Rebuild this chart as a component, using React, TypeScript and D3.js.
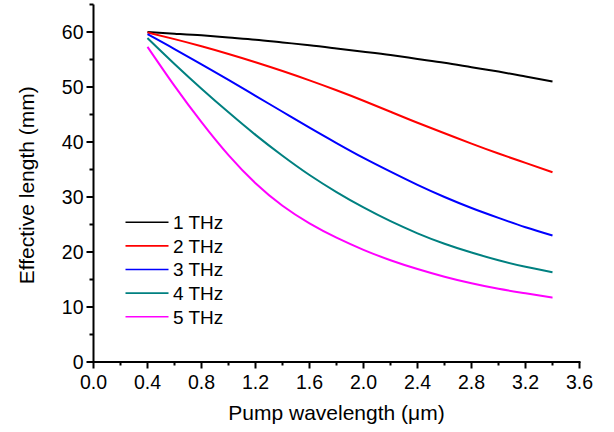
import React from "react";
import * as d3 from "d3";

const wavelengths = [0.4, 0.6, 0.8, 1.0, 1.2, 1.4, 1.6, 1.8, 2.0, 2.2, 2.4, 2.6, 2.8, 3.0, 3.2, 3.4];
const thz1 = [60.0, 59.7, 59.4, 59.0, 58.6, 58.1, 57.6, 57.0, 56.4, 55.8, 55.1, 54.4, 53.6, 52.8, 51.9, 51.0];
const thz2 = [59.9, 58.7, 57.4, 56.0, 54.5, 52.9, 51.2, 49.4, 47.5, 45.5, 43.5, 41.6, 39.7, 37.9, 36.2, 34.5];
const thz3 = [59.6, 56.9, 54.1, 51.3, 48.4, 45.5, 42.6, 39.8, 37.1, 34.6, 32.2, 30.0, 28.0, 26.2, 24.5, 23.0];
const thz4 = [58.9, 54.2, 49.7, 45.4, 41.3, 37.5, 34.0, 30.9, 28.1, 25.6, 23.4, 21.5, 19.9, 18.5, 17.3, 16.3];
const thz5 = [57.3, 50.2, 43.6, 37.6, 32.5, 28.4, 25.2, 22.6, 20.4, 18.5, 16.9, 15.5, 14.3, 13.3, 12.5, 11.7];

const seriesNames = ["1 THz", "2 THz", "3 THz", "4 THz", "5 THz"];
const seriesValues = [thz1, thz2, thz3, thz4, thz5];
const seriesColors = ["#000000", "#ff0000", "#0000ff", "#008080", "#ff00ff"];

const xMajorTicks = [0, 0.4, 0.8, 1.2, 1.6, 2.0, 2.4, 2.8, 3.2, 3.6];
const xMinorTicks = [0.2, 0.6, 1.0, 1.4, 1.8, 2.2, 2.6, 3.0, 3.4];
const yMajorTicks = [0, 10, 20, 30, 40, 50, 60];
const yMinorTicks = [5, 15, 25, 35, 45, 55, 65];

const W = 614;
const H = 432;
const FONT = "Liberation Sans, Arial, Helvetica, sans-serif";

export default function App() {
  const x = d3.scaleLinear().domain([0, 3.6]).range([93.5, 579.5]);
  const y = d3.scaleLinear().domain([0, 65]).range([362, 4.5]);
  const line = d3
    .line<[number, number]>()
    .x((d) => x(d[0]))
    .y((d) => y(d[1]))
    .curve(d3.curveNatural);

  const x0 = x(0);
  const y0 = y(0);

  return (
    <svg
      width={W}
      height={H}
      style={{ position: "absolute", left: 0, top: 0, background: "#fff" }}
      fontFamily={FONT}
    >
      <rect width={W} height={H} fill="#fff" />
      {seriesValues.map((vals, i) => (
        <path
          key={seriesNames[i]}
          d={line(wavelengths.map((w, j) => [w, vals[j]] as [number, number])) || ""}
          fill="none"
          stroke={seriesColors[i]}
          strokeWidth={2}
        />
      ))}

      {/* axes */}
      <line x1={x0} x2={x0} y1={y(65)} y2={y0 + 1} stroke="#000" strokeWidth={2} />
      <line x1={x0 - 1} x2={x(3.6) + 1} y1={y0} y2={y0} stroke="#000" strokeWidth={2} />

      {xMajorTicks.map((t) => (
        <g key={"xm" + t}>
          <line x1={x(t)} x2={x(t)} y1={y0} y2={y0 + 6.5} stroke="#000" strokeWidth={2} />
          <text x={x(t)} y={y0 + 27} textAnchor="middle" fontSize={19.5} fill="#000">
            {t.toFixed(1)}
          </text>
        </g>
      ))}
      {xMinorTicks.map((t) => (
        <line key={"xn" + t} x1={x(t)} x2={x(t)} y1={y0} y2={y0 + 3.5} stroke="#000" strokeWidth={2} />
      ))}
      {yMajorTicks.map((t) => (
        <g key={"ym" + t}>
          <line x1={x0} x2={x0 - 7} y1={y(t)} y2={y(t)} stroke="#000" strokeWidth={2} />
          <text x={x0 - 10} y={y(t)} dy="0.35em" textAnchor="end" fontSize={19.5} fill="#000">
            {t}
          </text>
        </g>
      ))}
      {yMinorTicks.map((t) => (
        <line key={"yn" + t} x1={x0} x2={x0 - 4} y1={y(t)} y2={y(t)} stroke="#000" strokeWidth={2} />
      ))}

      {/* axis titles */}
      <text x={(x(0) + x(3.6)) / 2} y={420} textAnchor="middle" fontSize={21} fill="#000">
        Pump wavelength (μm)
      </text>
      <text
        transform={`translate(34, ${(y(0) + y(65)) / 2 + 2}) rotate(-90)`}
        textAnchor="middle"
        fontSize={21}
        fill="#000"
      >
        Effective length (mm)
      </text>

      {/* legend */}
      {seriesNames.map((name, i) => {
        const ly = 222.3 + i * 23.6;
        return (
          <g key={"lg" + name}>
            <line x1={125.5} x2={168.5} y1={ly} y2={ly} stroke={seriesColors[i]} strokeWidth={1.6} />
            <text x={173} y={ly} dy="0.36em" fontSize={19} fill="#000">
              {name}
            </text>
          </g>
        );
      })}
    </svg>
  );
}
